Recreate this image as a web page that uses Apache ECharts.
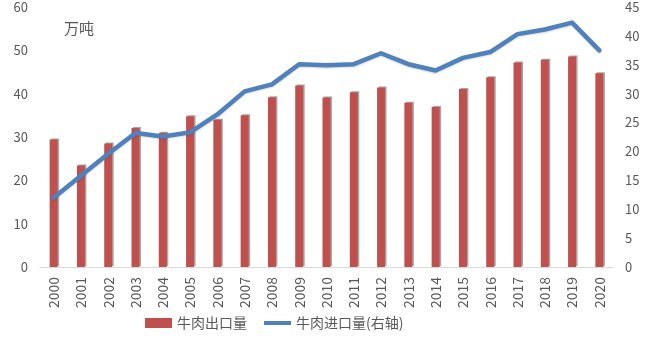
<!DOCTYPE html>
<html>
<head>
<meta charset="utf-8">
<script src="https://cdn.jsdelivr.net/npm/echarts@6/dist/echarts.min.js"></script>
<style>
  html, body { margin: 0; padding: 0; background: #ffffff; }
  #chart { width: 650px; height: 341px; }
</style>
</head>
<body>
<div id="chart"></div>
<script>
// 年份
const years = ['2000','2001','2002','2003','2004','2005','2006','2007','2008','2009','2010',
               '2011','2012','2013','2014','2015','2016','2017','2018','2019','2020'];
// 牛肉出口量（万吨，左轴）
const exportVol = [29.4, 23.4, 28.5, 32.1, 31.0, 34.8, 34.0, 35.0, 39.2, 41.9, 39.1,
                   40.3, 41.4, 37.9, 36.9, 41.1, 43.8, 47.2, 47.8, 48.6, 44.7];
// 牛肉进口量（万吨，右轴）
const importVol = [12.0, 15.8, 19.6, 23.2, 22.6, 23.3, 26.4, 30.4, 31.6, 35.1, 34.9,
                   35.1, 37.0, 35.1, 34.0, 36.2, 37.2, 40.3, 41.1, 42.3, 37.5];

const textColor = '#595959';
const font = '"Noto Sans CJK SC", "Liberation Sans", sans-serif';

const chart = echarts.init(document.getElementById('chart'), null, { renderer: 'canvas' });
chart.setOption({
  animation: false,
  backgroundColor: '#ffffff',
  textStyle: { fontFamily: font, color: textColor },
  grid: { left: 40, right: 37, top: 7, bottom: 74, containLabel: false },
  graphic: [{
    type: 'text', left: 64, top: 21,
    style: { text: '万吨', fill: textColor, font: '15px ' + font }
  }],
  legend: {
    bottom: 6, left: 140, itemGap: 17, itemWidth: 27, itemHeight: 10,
    textStyle: { fontSize: 14, color: textColor, fontFamily: font },
    data: [
      { name: '牛肉出口量', icon: 'rect' },
      { name: '牛肉进口量(右轴)', icon: 'path://M0,0 L30,0 L30,4.5 L0,4.5 Z',
        itemStyle: { color: '#4F81BD' } }
    ]
  },
  xAxis: {
    type: 'category', data: years, boundaryGap: true,
    axisLine: { lineStyle: { color: '#D9D9D9', width: 1 } },
    axisTick: { show: false },
    axisLabel: { rotate: 90, color: textColor, fontSize: 14, margin: 10, fontFamily: font }
  },
  yAxis: [{
    type: 'value', min: 0, max: 60, interval: 10,
    splitLine: { show: false }, axisLine: { show: false }, axisTick: { show: false },
    axisLabel: { color: textColor, fontSize: 13, margin: 12, fontFamily: font }
  }, {
    type: 'value', min: 0, max: 45, interval: 5,
    splitLine: { show: false }, axisLine: { show: false }, axisTick: { show: false },
    axisLabel: { color: textColor, fontSize: 13, margin: 12, fontFamily: font }
  }],
  series: [{
    name: '牛肉出口量', type: 'bar', yAxisIndex: 0, data: exportVol, barWidth: 8,
    itemStyle: {
      color: '#C0504D',
      shadowColor: 'rgba(0,0,0,0.35)', shadowBlur: 0, shadowOffsetX: 1.5, shadowOffsetY: -1
    }
  }, {
    name: '牛肉进口量(右轴)', type: 'line', yAxisIndex: 1, data: importVol,
    symbol: 'none', smooth: false,
    lineStyle: { color: '#4F81BD', width: 4.5, cap: 'round', join: 'round',
                 shadowColor: 'rgba(0,0,0,0.15)', shadowBlur: 2, shadowOffsetY: 1 },
    itemStyle: { color: '#4F81BD' }
  }]
});
</script>
</body>
</html>
